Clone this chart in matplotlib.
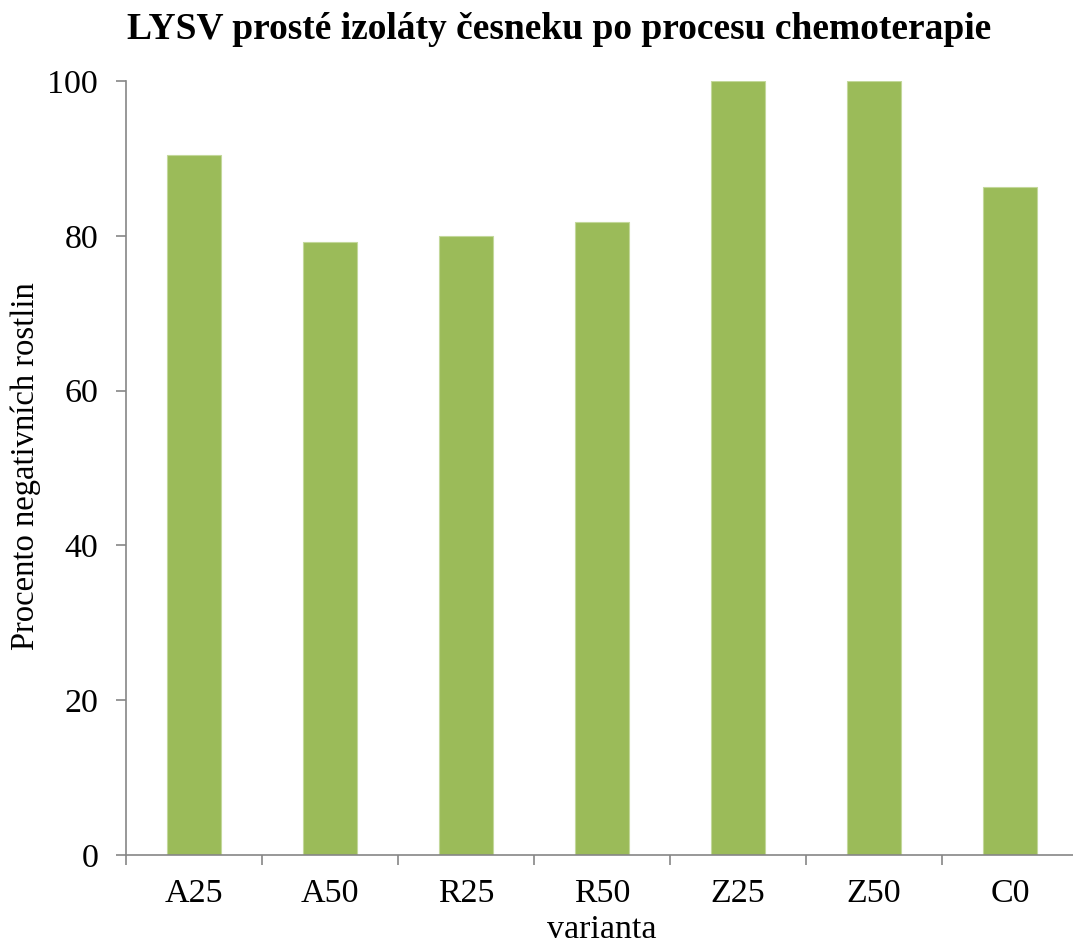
import numpy as np
import matplotlib.pyplot as plt

categories = ['A25', 'A50', 'R25', 'R50', 'Z25', 'Z50', 'C0']
negative_pct = [90.4, 79.2, 80.0, 81.8, 100.0, 100.0, 86.3]
yticks = [0, 20, 40, 60, 80, 100]

plt.rcParams['font.family'] = ['Liberation Serif', 'DejaVu Serif']

fig = plt.figure(figsize=(10.73, 9.48), dpi=100)
ax = fig.add_axes([0.1174, 0.0981, 0.8873, 0.8165])

x = np.arange(len(categories))
ax.bar(x, negative_pct, width=0.4, color='#9BBB59', edgecolor='#C3D89B', linewidth=0.8)

ax.set_xlim(-0.5, len(categories) - 0.5)
ax.set_ylim(0, 100)
ax.set_yticks(yticks)
ax.set_yticklabels([str(v) for v in yticks])

# category ticks sit on the boundaries, labels in the middle
ax.set_xticks(np.arange(len(categories) + 1) - 0.5)
ax.set_xticklabels([])
ax.set_xticks(x, minor=True)
ax.set_xticklabels(categories, minor=True)
ax.tick_params(axis='x', which='minor', length=0, pad=17, labelsize=24.5)
ax.tick_params(axis='x', which='major', length=7, width=1.2, color='#868686', direction='out')
ax.tick_params(axis='y', length=7, width=1.2, color='#868686', direction='out', pad=13, labelsize=24.5)

for side in ['top', 'right']:
    ax.spines[side].set_visible(False)
for side in ['left', 'bottom']:
    ax.spines[side].set_color('#868686')
    ax.spines[side].set_linewidth(1.2)

ax.set_ylabel('Procento negativních rostlin', fontsize=23.5)
ax.yaxis.set_label_coords(-0.089, 0.503)
ax.set_xlabel('varianta', fontsize=24.5)
ax.xaxis.set_label_coords(0.5, -0.077)

fig.text(0.521, 0.969, 'LYSV prosté izoláty česneku po procesu chemoterapie',
         ha='center', va='center', fontsize=27, fontweight='bold')

fig.savefig('out.png', dpi=100)
